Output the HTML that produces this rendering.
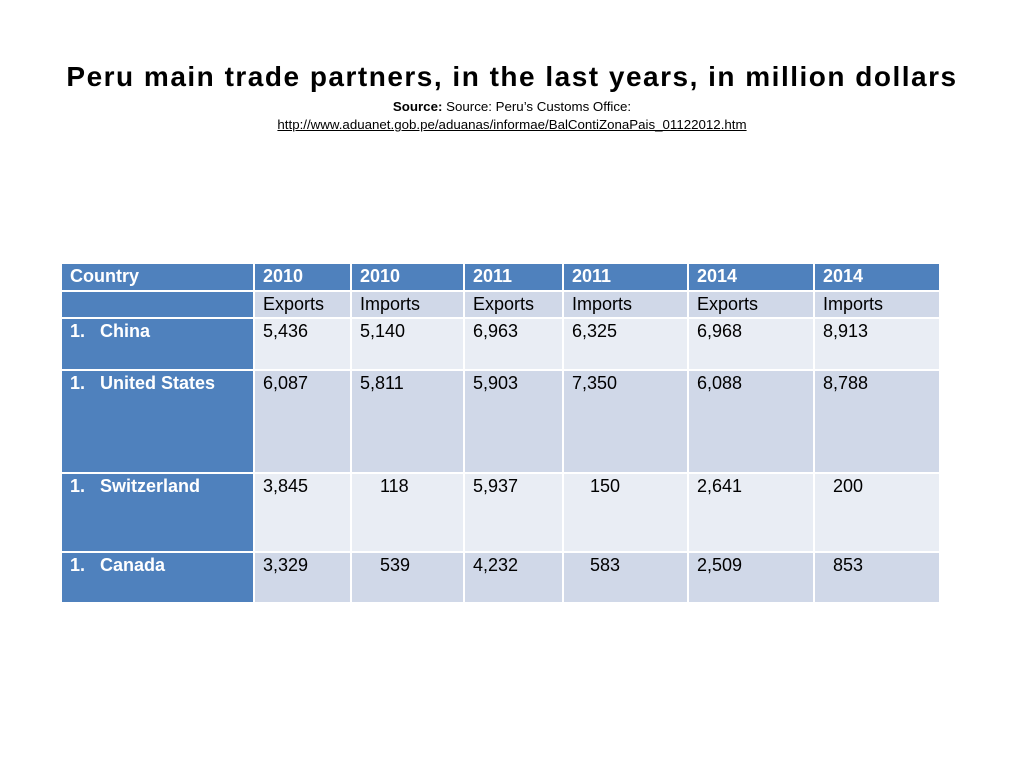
<!DOCTYPE html>
<html><head><meta charset="utf-8"><style>
body{margin:0;width:1024px;height:768px;background:#fff;position:relative;font-family:"Liberation Sans",sans-serif;overflow:hidden}
#title{position:absolute;top:61px;left:0;width:1024px;text-align:center;font-weight:bold;font-size:28px;color:#000;letter-spacing:1.5px}
#src{position:absolute;top:98px;left:0;width:1024px;text-align:center;font-size:13.3px;line-height:18px;color:#000}
#src a{color:#000;text-decoration:underline}
table{position:absolute;left:60px;top:262px;border-collapse:collapse;table-layout:fixed;font-size:18px}
td{border:2px solid #fff;padding:2px 8px 0 8px;vertical-align:top;color:#000;overflow:hidden;white-space:nowrap}
.h td{background:#4F81BD;color:#fff;font-weight:bold}
.c{background:#4F81BD!important;color:#fff;font-weight:bold}
.d td{background:#D0D8E8}
.l td{background:#E9EDF4}
</style></head><body>
<div id="title">Peru main trade partners, in the last years, in million dollars</div>
<div id="src"><b>Source:</b> Source: Peru’s Customs Office:<br><a>http://www.aduanet.gob.pe/aduanas/informae/BalContiZonaPais_01122012.htm</a></div>
<table>
<colgroup><col style="width:193px"><col style="width:97px"><col style="width:113px"><col style="width:99px"><col style="width:125px"><col style="width:126px"><col style="width:126px"></colgroup>
<tr class="h" style="height:28px"><td>Country</td><td>2010</td><td>2010</td><td>2011</td><td>2011</td><td>2014</td><td>2014</td></tr>
<tr class="d" style="height:27px"><td class="c"></td><td>Exports</td><td>Imports</td><td>Exports</td><td>Imports</td><td>Exports</td><td>Imports</td></tr>
<tr class="l" style="height:52px"><td class="c">1.&nbsp;&nbsp;&nbsp;China</td><td>5,436</td><td>5,140</td><td>6,963</td><td>6,325</td><td>6,968</td><td>8,913</td></tr>
<tr class="d" style="height:103px"><td class="c">1.&nbsp;&nbsp;&nbsp;United States</td><td>6,087</td><td>5,811</td><td>5,903</td><td>7,350</td><td>6,088</td><td>8,788</td></tr>
<tr class="l" style="height:79px"><td class="c">1.&nbsp;&nbsp;&nbsp;Switzerland</td><td>3,845</td><td style="padding-left:28px">118</td><td>5,937</td><td style="padding-left:26px">150</td><td>2,641</td><td style="padding-left:18px">200</td></tr>
<tr class="d" style="height:51px"><td class="c">1.&nbsp;&nbsp;&nbsp;Canada</td><td>3,329</td><td style="padding-left:28px">539</td><td>4,232</td><td style="padding-left:26px">583</td><td>2,509</td><td style="padding-left:18px">853</td></tr>
</table>
</body></html>
